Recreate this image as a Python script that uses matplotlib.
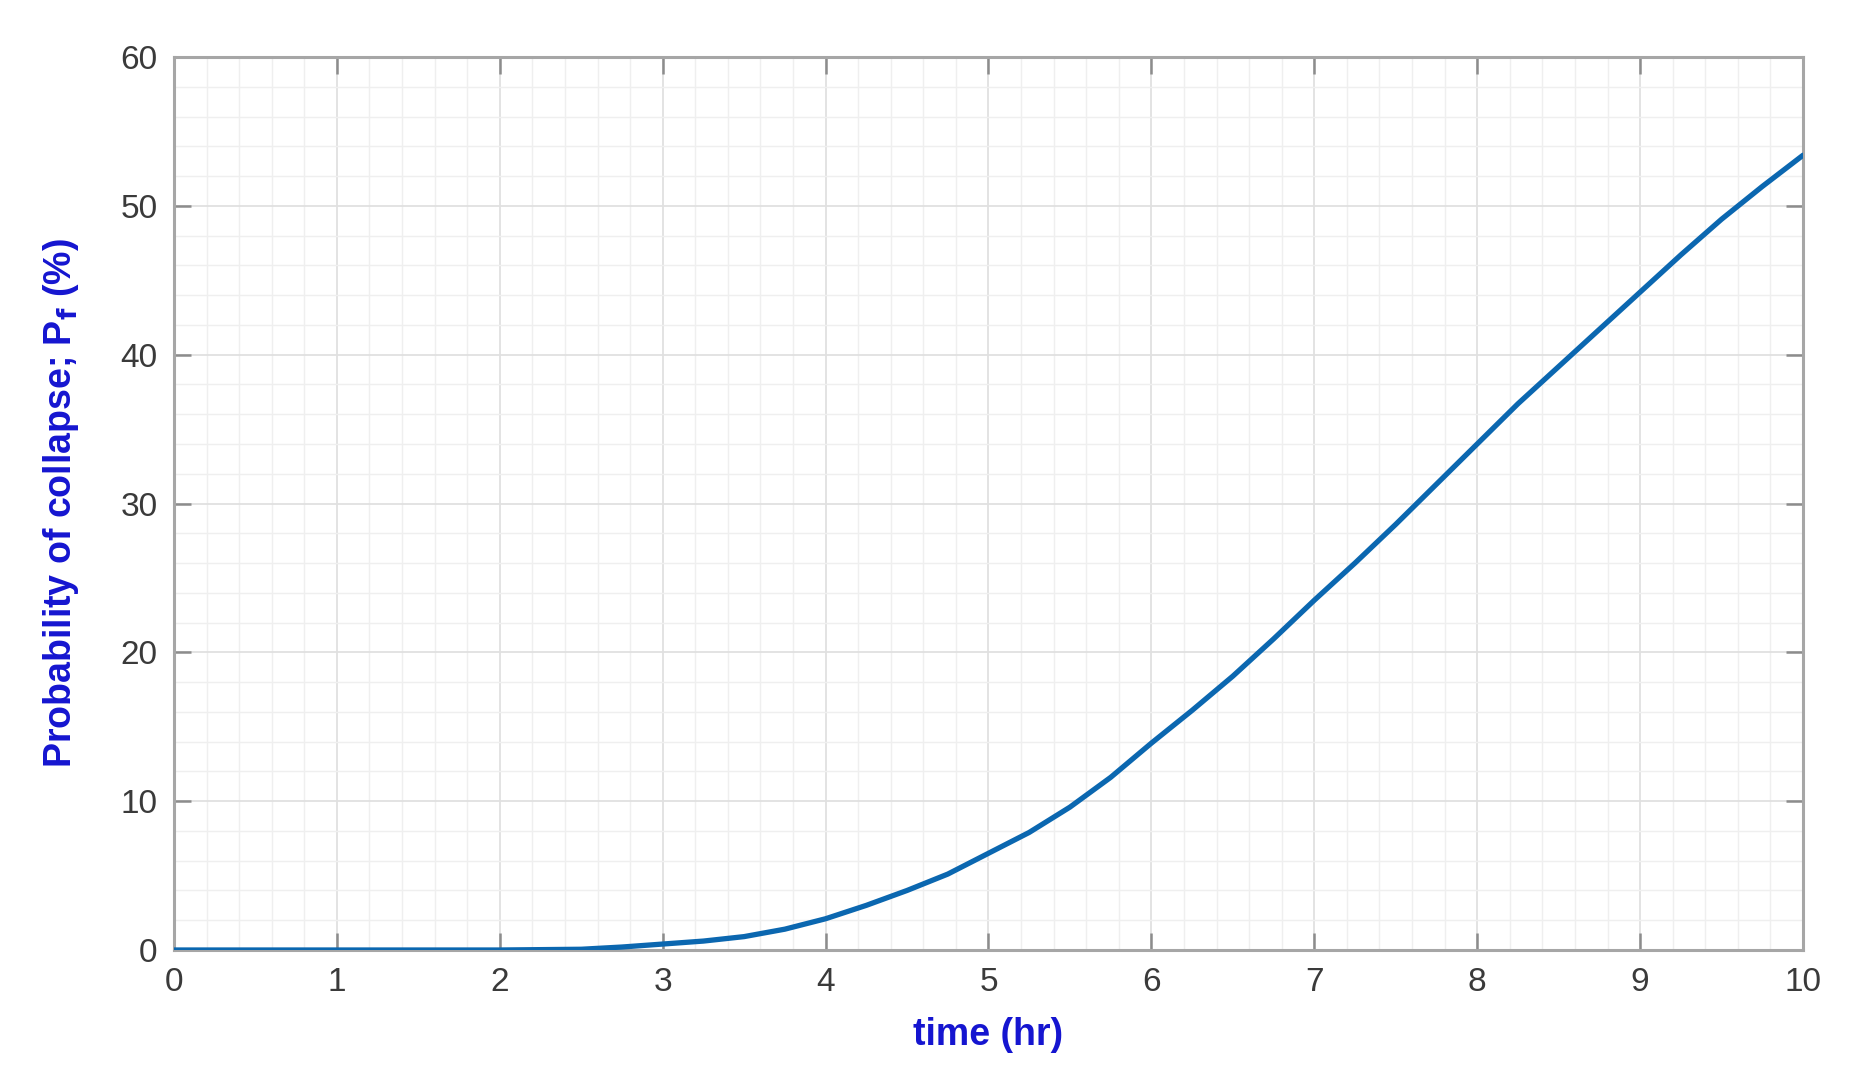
import numpy as np
import matplotlib
matplotlib.use('Agg')
import matplotlib.pyplot as plt
from matplotlib.ticker import MultipleLocator

# Data
time_hr = [0, 0.5, 1, 1.5, 2, 2.5, 2.75, 3, 3.25, 3.5, 3.75, 4, 4.25, 4.5, 4.75,
           5, 5.25, 5.5, 5.75, 6, 6.25, 6.5, 6.75, 7, 7.25, 7.5, 7.75, 8,
           8.25, 8.5, 8.75, 9, 9.25, 9.5, 9.75, 10]
pf = [0, 0, 0, 0, 0, 0.05, 0.2, 0.4, 0.6, 0.9, 1.4, 2.1, 3.0, 4.0, 5.1,
      6.5, 7.9, 9.6, 11.6, 13.9, 16.1, 18.4, 20.9, 23.5, 26.0, 28.6, 31.3, 34.0,
      36.7, 39.2, 41.7, 44.2, 46.7, 49.1, 51.3, 53.4]

plt.rcParams['font.family'] = ['Liberation Sans', 'DejaVu Sans']

fig = plt.figure(figsize=(18.55, 10.78), dpi=100)
ax = fig.add_axes([174/1855, 1 - 950/1078, (1803-174)/1855, (950-57)/1078])

ax.plot(time_hr, pf, color='#0b67b0', lw=3.8, zorder=3, solid_capstyle='round')

ax.set_xlim(0, 10)
ax.set_ylim(0, 60)
ax.xaxis.set_major_locator(MultipleLocator(1))
ax.xaxis.set_minor_locator(MultipleLocator(0.2))
ax.yaxis.set_major_locator(MultipleLocator(10))
ax.yaxis.set_minor_locator(MultipleLocator(2))

ax.grid(True, which='major', color='#e0e0e0', lw=1.3)
ax.grid(True, which='minor', color='#efefef', lw=1.0)
ax.set_axisbelow(True)

for s in ax.spines.values():
    s.set_color('#a6a6a6')
    s.set_linewidth(2.2)

ax.tick_params(which='major', direction='in', length=12, width=1.8, color='#8c8c8c',
               top=True, right=True, labelsize=24, labelcolor='#3a3a3a', pad=12)
ax.tick_params(which='minor', length=0)

ax.set_xlabel('time (hr)', fontsize=27, fontweight='bold', color='#1515d0', labelpad=14)
ax.set_ylabel(r'Probability of collapse; P$_\mathbf{f}$ (%)', fontsize=27,
              fontweight='bold', color='#1515d0', labelpad=28)

fig.savefig('out.png', dpi=100)
